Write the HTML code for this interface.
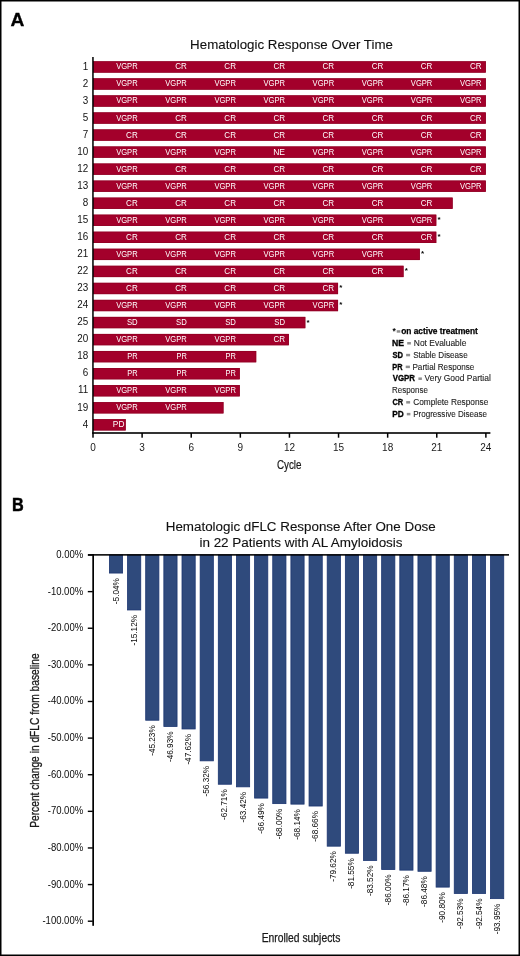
<!DOCTYPE html>
<html><head><meta charset="utf-8"><style>
html,body{margin:0;padding:0;background:#fff;}
body{width:520px;height:956px;overflow:hidden;}
svg{display:block;font-family:"Liberation Sans", sans-serif;will-change:transform;}
</style></head><body>
<svg width="520" height="956" viewBox="0 0 520 956">
<rect x="0" y="0" width="520" height="956" fill="#fff"/>
<text x="10.52" y="25.60" font-size="18.5" fill="#000" font-weight="bold" stroke="#000" stroke-width="0.3" textLength="13.90" lengthAdjust="spacingAndGlyphs">A</text>
<text x="190.13" y="48.60" font-size="13.2" fill="#111" stroke="#111" stroke-width="0.1" textLength="202.75" lengthAdjust="spacingAndGlyphs">Hematologic Response Over Time</text>
<rect x="93.0" y="61.30" width="392.88" height="11.3" fill="#a3002b"/>
<rect x="93.30" y="61.60" width="392.28" height="10.70" fill="none" stroke="#8c0022" stroke-width="0.6"/>
<text x="88.30" y="69.70" font-size="10.3" text-anchor="end" fill="#111" textLength="5.50" lengthAdjust="spacingAndGlyphs">1</text>
<text x="116.17" y="69.40" font-size="9.0" fill="#fff" textLength="21.51" lengthAdjust="spacingAndGlyphs">VGPR</text>
<text x="175.22" y="69.40" font-size="9.0" fill="#fff" textLength="11.60" lengthAdjust="spacingAndGlyphs">CR</text>
<text x="224.33" y="69.40" font-size="9.0" fill="#fff" textLength="11.60" lengthAdjust="spacingAndGlyphs">CR</text>
<text x="273.44" y="69.40" font-size="9.0" fill="#fff" textLength="11.60" lengthAdjust="spacingAndGlyphs">CR</text>
<text x="322.55" y="69.40" font-size="9.0" fill="#fff" textLength="11.60" lengthAdjust="spacingAndGlyphs">CR</text>
<text x="371.66" y="69.40" font-size="9.0" fill="#fff" textLength="11.60" lengthAdjust="spacingAndGlyphs">CR</text>
<text x="420.77" y="69.40" font-size="9.0" fill="#fff" textLength="11.60" lengthAdjust="spacingAndGlyphs">CR</text>
<text x="469.88" y="69.40" font-size="9.0" fill="#fff" textLength="11.60" lengthAdjust="spacingAndGlyphs">CR</text>
<rect x="93.0" y="78.34" width="392.88" height="11.3" fill="#a3002b"/>
<rect x="93.30" y="78.64" width="392.28" height="10.70" fill="none" stroke="#8c0022" stroke-width="0.6"/>
<text x="88.30" y="86.74" font-size="10.3" text-anchor="end" fill="#111" textLength="5.50" lengthAdjust="spacingAndGlyphs">2</text>
<text x="116.17" y="86.44" font-size="9.0" fill="#fff" textLength="21.51" lengthAdjust="spacingAndGlyphs">VGPR</text>
<text x="165.28" y="86.44" font-size="9.0" fill="#fff" textLength="21.51" lengthAdjust="spacingAndGlyphs">VGPR</text>
<text x="214.39" y="86.44" font-size="9.0" fill="#fff" textLength="21.51" lengthAdjust="spacingAndGlyphs">VGPR</text>
<text x="263.50" y="86.44" font-size="9.0" fill="#fff" textLength="21.51" lengthAdjust="spacingAndGlyphs">VGPR</text>
<text x="312.61" y="86.44" font-size="9.0" fill="#fff" textLength="21.51" lengthAdjust="spacingAndGlyphs">VGPR</text>
<text x="361.72" y="86.44" font-size="9.0" fill="#fff" textLength="21.51" lengthAdjust="spacingAndGlyphs">VGPR</text>
<text x="410.83" y="86.44" font-size="9.0" fill="#fff" textLength="21.51" lengthAdjust="spacingAndGlyphs">VGPR</text>
<text x="459.94" y="86.44" font-size="9.0" fill="#fff" textLength="21.51" lengthAdjust="spacingAndGlyphs">VGPR</text>
<rect x="93.0" y="95.38" width="392.88" height="11.3" fill="#a3002b"/>
<rect x="93.30" y="95.68" width="392.28" height="10.70" fill="none" stroke="#8c0022" stroke-width="0.6"/>
<text x="88.30" y="103.78" font-size="10.3" text-anchor="end" fill="#111" textLength="5.50" lengthAdjust="spacingAndGlyphs">3</text>
<text x="116.17" y="103.48" font-size="9.0" fill="#fff" textLength="21.51" lengthAdjust="spacingAndGlyphs">VGPR</text>
<text x="165.28" y="103.48" font-size="9.0" fill="#fff" textLength="21.51" lengthAdjust="spacingAndGlyphs">VGPR</text>
<text x="214.39" y="103.48" font-size="9.0" fill="#fff" textLength="21.51" lengthAdjust="spacingAndGlyphs">VGPR</text>
<text x="263.50" y="103.48" font-size="9.0" fill="#fff" textLength="21.51" lengthAdjust="spacingAndGlyphs">VGPR</text>
<text x="312.61" y="103.48" font-size="9.0" fill="#fff" textLength="21.51" lengthAdjust="spacingAndGlyphs">VGPR</text>
<text x="361.72" y="103.48" font-size="9.0" fill="#fff" textLength="21.51" lengthAdjust="spacingAndGlyphs">VGPR</text>
<text x="410.83" y="103.48" font-size="9.0" fill="#fff" textLength="21.51" lengthAdjust="spacingAndGlyphs">VGPR</text>
<text x="459.94" y="103.48" font-size="9.0" fill="#fff" textLength="21.51" lengthAdjust="spacingAndGlyphs">VGPR</text>
<rect x="93.0" y="112.42" width="392.88" height="11.3" fill="#a3002b"/>
<rect x="93.30" y="112.72" width="392.28" height="10.70" fill="none" stroke="#8c0022" stroke-width="0.6"/>
<text x="88.30" y="120.82" font-size="10.3" text-anchor="end" fill="#111" textLength="5.50" lengthAdjust="spacingAndGlyphs">5</text>
<text x="116.17" y="120.52" font-size="9.0" fill="#fff" textLength="21.51" lengthAdjust="spacingAndGlyphs">VGPR</text>
<text x="175.22" y="120.52" font-size="9.0" fill="#fff" textLength="11.60" lengthAdjust="spacingAndGlyphs">CR</text>
<text x="224.33" y="120.52" font-size="9.0" fill="#fff" textLength="11.60" lengthAdjust="spacingAndGlyphs">CR</text>
<text x="273.44" y="120.52" font-size="9.0" fill="#fff" textLength="11.60" lengthAdjust="spacingAndGlyphs">CR</text>
<text x="322.55" y="120.52" font-size="9.0" fill="#fff" textLength="11.60" lengthAdjust="spacingAndGlyphs">CR</text>
<text x="371.66" y="120.52" font-size="9.0" fill="#fff" textLength="11.60" lengthAdjust="spacingAndGlyphs">CR</text>
<text x="420.77" y="120.52" font-size="9.0" fill="#fff" textLength="11.60" lengthAdjust="spacingAndGlyphs">CR</text>
<text x="469.88" y="120.52" font-size="9.0" fill="#fff" textLength="11.60" lengthAdjust="spacingAndGlyphs">CR</text>
<rect x="93.0" y="129.46" width="392.88" height="11.3" fill="#a3002b"/>
<rect x="93.30" y="129.76" width="392.28" height="10.70" fill="none" stroke="#8c0022" stroke-width="0.6"/>
<text x="88.30" y="137.86" font-size="10.3" text-anchor="end" fill="#111" textLength="5.50" lengthAdjust="spacingAndGlyphs">7</text>
<text x="126.11" y="137.56" font-size="9.0" fill="#fff" textLength="11.60" lengthAdjust="spacingAndGlyphs">CR</text>
<text x="175.22" y="137.56" font-size="9.0" fill="#fff" textLength="11.60" lengthAdjust="spacingAndGlyphs">CR</text>
<text x="224.33" y="137.56" font-size="9.0" fill="#fff" textLength="11.60" lengthAdjust="spacingAndGlyphs">CR</text>
<text x="273.44" y="137.56" font-size="9.0" fill="#fff" textLength="11.60" lengthAdjust="spacingAndGlyphs">CR</text>
<text x="322.55" y="137.56" font-size="9.0" fill="#fff" textLength="11.60" lengthAdjust="spacingAndGlyphs">CR</text>
<text x="371.66" y="137.56" font-size="9.0" fill="#fff" textLength="11.60" lengthAdjust="spacingAndGlyphs">CR</text>
<text x="420.77" y="137.56" font-size="9.0" fill="#fff" textLength="11.60" lengthAdjust="spacingAndGlyphs">CR</text>
<text x="469.88" y="137.56" font-size="9.0" fill="#fff" textLength="11.60" lengthAdjust="spacingAndGlyphs">CR</text>
<rect x="93.0" y="146.50" width="392.88" height="11.3" fill="#a3002b"/>
<rect x="93.30" y="146.80" width="392.28" height="10.70" fill="none" stroke="#8c0022" stroke-width="0.6"/>
<text x="88.30" y="154.90" font-size="10.3" text-anchor="end" fill="#111" textLength="11.00" lengthAdjust="spacingAndGlyphs">10</text>
<text x="116.17" y="154.60" font-size="9.0" fill="#fff" textLength="21.51" lengthAdjust="spacingAndGlyphs">VGPR</text>
<text x="165.28" y="154.60" font-size="9.0" fill="#fff" textLength="21.51" lengthAdjust="spacingAndGlyphs">VGPR</text>
<text x="214.39" y="154.60" font-size="9.0" fill="#fff" textLength="21.51" lengthAdjust="spacingAndGlyphs">VGPR</text>
<text x="273.16" y="154.60" font-size="9.0" fill="#fff" textLength="11.86" lengthAdjust="spacingAndGlyphs">NE</text>
<text x="312.61" y="154.60" font-size="9.0" fill="#fff" textLength="21.51" lengthAdjust="spacingAndGlyphs">VGPR</text>
<text x="361.72" y="154.60" font-size="9.0" fill="#fff" textLength="21.51" lengthAdjust="spacingAndGlyphs">VGPR</text>
<text x="410.83" y="154.60" font-size="9.0" fill="#fff" textLength="21.51" lengthAdjust="spacingAndGlyphs">VGPR</text>
<text x="459.94" y="154.60" font-size="9.0" fill="#fff" textLength="21.51" lengthAdjust="spacingAndGlyphs">VGPR</text>
<rect x="93.0" y="163.54" width="392.88" height="11.3" fill="#a3002b"/>
<rect x="93.30" y="163.84" width="392.28" height="10.70" fill="none" stroke="#8c0022" stroke-width="0.6"/>
<text x="88.30" y="171.94" font-size="10.3" text-anchor="end" fill="#111" textLength="11.00" lengthAdjust="spacingAndGlyphs">12</text>
<text x="116.17" y="171.64" font-size="9.0" fill="#fff" textLength="21.51" lengthAdjust="spacingAndGlyphs">VGPR</text>
<text x="175.22" y="171.64" font-size="9.0" fill="#fff" textLength="11.60" lengthAdjust="spacingAndGlyphs">CR</text>
<text x="224.33" y="171.64" font-size="9.0" fill="#fff" textLength="11.60" lengthAdjust="spacingAndGlyphs">CR</text>
<text x="273.44" y="171.64" font-size="9.0" fill="#fff" textLength="11.60" lengthAdjust="spacingAndGlyphs">CR</text>
<text x="322.55" y="171.64" font-size="9.0" fill="#fff" textLength="11.60" lengthAdjust="spacingAndGlyphs">CR</text>
<text x="371.66" y="171.64" font-size="9.0" fill="#fff" textLength="11.60" lengthAdjust="spacingAndGlyphs">CR</text>
<text x="420.77" y="171.64" font-size="9.0" fill="#fff" textLength="11.60" lengthAdjust="spacingAndGlyphs">CR</text>
<text x="469.88" y="171.64" font-size="9.0" fill="#fff" textLength="11.60" lengthAdjust="spacingAndGlyphs">CR</text>
<rect x="93.0" y="180.58" width="392.88" height="11.3" fill="#a3002b"/>
<rect x="93.30" y="180.88" width="392.28" height="10.70" fill="none" stroke="#8c0022" stroke-width="0.6"/>
<text x="88.30" y="188.98" font-size="10.3" text-anchor="end" fill="#111" textLength="11.00" lengthAdjust="spacingAndGlyphs">13</text>
<text x="116.17" y="188.68" font-size="9.0" fill="#fff" textLength="21.51" lengthAdjust="spacingAndGlyphs">VGPR</text>
<text x="165.28" y="188.68" font-size="9.0" fill="#fff" textLength="21.51" lengthAdjust="spacingAndGlyphs">VGPR</text>
<text x="214.39" y="188.68" font-size="9.0" fill="#fff" textLength="21.51" lengthAdjust="spacingAndGlyphs">VGPR</text>
<text x="263.50" y="188.68" font-size="9.0" fill="#fff" textLength="21.51" lengthAdjust="spacingAndGlyphs">VGPR</text>
<text x="312.61" y="188.68" font-size="9.0" fill="#fff" textLength="21.51" lengthAdjust="spacingAndGlyphs">VGPR</text>
<text x="361.72" y="188.68" font-size="9.0" fill="#fff" textLength="21.51" lengthAdjust="spacingAndGlyphs">VGPR</text>
<text x="410.83" y="188.68" font-size="9.0" fill="#fff" textLength="21.51" lengthAdjust="spacingAndGlyphs">VGPR</text>
<text x="459.94" y="188.68" font-size="9.0" fill="#fff" textLength="21.51" lengthAdjust="spacingAndGlyphs">VGPR</text>
<rect x="93.0" y="197.62" width="359.64" height="11.3" fill="#a3002b"/>
<rect x="93.30" y="197.92" width="359.04" height="10.70" fill="none" stroke="#8c0022" stroke-width="0.6"/>
<text x="88.30" y="206.02" font-size="10.3" text-anchor="end" fill="#111" textLength="5.50" lengthAdjust="spacingAndGlyphs">8</text>
<text x="126.11" y="205.72" font-size="9.0" fill="#fff" textLength="11.60" lengthAdjust="spacingAndGlyphs">CR</text>
<text x="175.22" y="205.72" font-size="9.0" fill="#fff" textLength="11.60" lengthAdjust="spacingAndGlyphs">CR</text>
<text x="224.33" y="205.72" font-size="9.0" fill="#fff" textLength="11.60" lengthAdjust="spacingAndGlyphs">CR</text>
<text x="273.44" y="205.72" font-size="9.0" fill="#fff" textLength="11.60" lengthAdjust="spacingAndGlyphs">CR</text>
<text x="322.55" y="205.72" font-size="9.0" fill="#fff" textLength="11.60" lengthAdjust="spacingAndGlyphs">CR</text>
<text x="371.66" y="205.72" font-size="9.0" fill="#fff" textLength="11.60" lengthAdjust="spacingAndGlyphs">CR</text>
<text x="420.77" y="205.72" font-size="9.0" fill="#fff" textLength="11.60" lengthAdjust="spacingAndGlyphs">CR</text>
<rect x="93.0" y="214.66" width="343.27" height="11.3" fill="#a3002b"/>
<rect x="93.30" y="214.96" width="342.67" height="10.70" fill="none" stroke="#8c0022" stroke-width="0.6"/>
<text x="88.30" y="223.06" font-size="10.3" text-anchor="end" fill="#111" textLength="11.00" lengthAdjust="spacingAndGlyphs">15</text>
<text x="116.17" y="222.76" font-size="9.0" fill="#fff" textLength="21.51" lengthAdjust="spacingAndGlyphs">VGPR</text>
<text x="165.28" y="222.76" font-size="9.0" fill="#fff" textLength="21.51" lengthAdjust="spacingAndGlyphs">VGPR</text>
<text x="214.39" y="222.76" font-size="9.0" fill="#fff" textLength="21.51" lengthAdjust="spacingAndGlyphs">VGPR</text>
<text x="263.50" y="222.76" font-size="9.0" fill="#fff" textLength="21.51" lengthAdjust="spacingAndGlyphs">VGPR</text>
<text x="312.61" y="222.76" font-size="9.0" fill="#fff" textLength="21.51" lengthAdjust="spacingAndGlyphs">VGPR</text>
<text x="361.72" y="222.76" font-size="9.0" fill="#fff" textLength="21.51" lengthAdjust="spacingAndGlyphs">VGPR</text>
<text x="410.83" y="222.76" font-size="9.0" fill="#fff" textLength="21.51" lengthAdjust="spacingAndGlyphs">VGPR</text>
<text x="437.47" y="222.26" font-size="8" text-anchor="start" fill="#000" font-weight="bold">*</text>
<rect x="93.0" y="231.70" width="343.27" height="11.3" fill="#a3002b"/>
<rect x="93.30" y="232.00" width="342.67" height="10.70" fill="none" stroke="#8c0022" stroke-width="0.6"/>
<text x="88.30" y="240.10" font-size="10.3" text-anchor="end" fill="#111" textLength="11.00" lengthAdjust="spacingAndGlyphs">16</text>
<text x="126.11" y="239.80" font-size="9.0" fill="#fff" textLength="11.60" lengthAdjust="spacingAndGlyphs">CR</text>
<text x="175.22" y="239.80" font-size="9.0" fill="#fff" textLength="11.60" lengthAdjust="spacingAndGlyphs">CR</text>
<text x="224.33" y="239.80" font-size="9.0" fill="#fff" textLength="11.60" lengthAdjust="spacingAndGlyphs">CR</text>
<text x="273.44" y="239.80" font-size="9.0" fill="#fff" textLength="11.60" lengthAdjust="spacingAndGlyphs">CR</text>
<text x="322.55" y="239.80" font-size="9.0" fill="#fff" textLength="11.60" lengthAdjust="spacingAndGlyphs">CR</text>
<text x="371.66" y="239.80" font-size="9.0" fill="#fff" textLength="11.60" lengthAdjust="spacingAndGlyphs">CR</text>
<text x="420.77" y="239.80" font-size="9.0" fill="#fff" textLength="11.60" lengthAdjust="spacingAndGlyphs">CR</text>
<text x="437.47" y="239.30" font-size="8" text-anchor="start" fill="#000" font-weight="bold">*</text>
<rect x="93.0" y="248.74" width="326.90" height="11.3" fill="#a3002b"/>
<rect x="93.30" y="249.04" width="326.30" height="10.70" fill="none" stroke="#8c0022" stroke-width="0.6"/>
<text x="88.30" y="257.14" font-size="10.3" text-anchor="end" fill="#111" textLength="11.00" lengthAdjust="spacingAndGlyphs">21</text>
<text x="116.17" y="256.84" font-size="9.0" fill="#fff" textLength="21.51" lengthAdjust="spacingAndGlyphs">VGPR</text>
<text x="165.28" y="256.84" font-size="9.0" fill="#fff" textLength="21.51" lengthAdjust="spacingAndGlyphs">VGPR</text>
<text x="214.39" y="256.84" font-size="9.0" fill="#fff" textLength="21.51" lengthAdjust="spacingAndGlyphs">VGPR</text>
<text x="263.50" y="256.84" font-size="9.0" fill="#fff" textLength="21.51" lengthAdjust="spacingAndGlyphs">VGPR</text>
<text x="312.61" y="256.84" font-size="9.0" fill="#fff" textLength="21.51" lengthAdjust="spacingAndGlyphs">VGPR</text>
<text x="361.72" y="256.84" font-size="9.0" fill="#fff" textLength="21.51" lengthAdjust="spacingAndGlyphs">VGPR</text>
<text x="421.10" y="256.34" font-size="8" text-anchor="start" fill="#000" font-weight="bold">*</text>
<rect x="93.0" y="265.78" width="310.53" height="11.3" fill="#a3002b"/>
<rect x="93.30" y="266.08" width="309.93" height="10.70" fill="none" stroke="#8c0022" stroke-width="0.6"/>
<text x="88.30" y="274.18" font-size="10.3" text-anchor="end" fill="#111" textLength="11.00" lengthAdjust="spacingAndGlyphs">22</text>
<text x="126.11" y="273.88" font-size="9.0" fill="#fff" textLength="11.60" lengthAdjust="spacingAndGlyphs">CR</text>
<text x="175.22" y="273.88" font-size="9.0" fill="#fff" textLength="11.60" lengthAdjust="spacingAndGlyphs">CR</text>
<text x="224.33" y="273.88" font-size="9.0" fill="#fff" textLength="11.60" lengthAdjust="spacingAndGlyphs">CR</text>
<text x="273.44" y="273.88" font-size="9.0" fill="#fff" textLength="11.60" lengthAdjust="spacingAndGlyphs">CR</text>
<text x="322.55" y="273.88" font-size="9.0" fill="#fff" textLength="11.60" lengthAdjust="spacingAndGlyphs">CR</text>
<text x="371.66" y="273.88" font-size="9.0" fill="#fff" textLength="11.60" lengthAdjust="spacingAndGlyphs">CR</text>
<text x="404.73" y="273.38" font-size="8" text-anchor="start" fill="#000" font-weight="bold">*</text>
<rect x="93.0" y="282.82" width="245.05" height="11.3" fill="#a3002b"/>
<rect x="93.30" y="283.12" width="244.45" height="10.70" fill="none" stroke="#8c0022" stroke-width="0.6"/>
<text x="88.30" y="291.22" font-size="10.3" text-anchor="end" fill="#111" textLength="11.00" lengthAdjust="spacingAndGlyphs">23</text>
<text x="126.11" y="290.92" font-size="9.0" fill="#fff" textLength="11.60" lengthAdjust="spacingAndGlyphs">CR</text>
<text x="175.22" y="290.92" font-size="9.0" fill="#fff" textLength="11.60" lengthAdjust="spacingAndGlyphs">CR</text>
<text x="224.33" y="290.92" font-size="9.0" fill="#fff" textLength="11.60" lengthAdjust="spacingAndGlyphs">CR</text>
<text x="273.44" y="290.92" font-size="9.0" fill="#fff" textLength="11.60" lengthAdjust="spacingAndGlyphs">CR</text>
<text x="322.55" y="290.92" font-size="9.0" fill="#fff" textLength="11.60" lengthAdjust="spacingAndGlyphs">CR</text>
<text x="339.25" y="290.42" font-size="8" text-anchor="start" fill="#000" font-weight="bold">*</text>
<rect x="93.0" y="299.86" width="245.05" height="11.3" fill="#a3002b"/>
<rect x="93.30" y="300.16" width="244.45" height="10.70" fill="none" stroke="#8c0022" stroke-width="0.6"/>
<text x="88.30" y="308.26" font-size="10.3" text-anchor="end" fill="#111" textLength="11.00" lengthAdjust="spacingAndGlyphs">24</text>
<text x="116.17" y="307.96" font-size="9.0" fill="#fff" textLength="21.51" lengthAdjust="spacingAndGlyphs">VGPR</text>
<text x="165.28" y="307.96" font-size="9.0" fill="#fff" textLength="21.51" lengthAdjust="spacingAndGlyphs">VGPR</text>
<text x="214.39" y="307.96" font-size="9.0" fill="#fff" textLength="21.51" lengthAdjust="spacingAndGlyphs">VGPR</text>
<text x="263.50" y="307.96" font-size="9.0" fill="#fff" textLength="21.51" lengthAdjust="spacingAndGlyphs">VGPR</text>
<text x="312.61" y="307.96" font-size="9.0" fill="#fff" textLength="21.51" lengthAdjust="spacingAndGlyphs">VGPR</text>
<text x="339.25" y="307.46" font-size="8" text-anchor="start" fill="#000" font-weight="bold">*</text>
<rect x="93.0" y="316.90" width="212.31" height="11.3" fill="#a3002b"/>
<rect x="93.30" y="317.20" width="211.71" height="10.70" fill="none" stroke="#8c0022" stroke-width="0.6"/>
<text x="88.30" y="325.30" font-size="10.3" text-anchor="end" fill="#111" textLength="11.00" lengthAdjust="spacingAndGlyphs">25</text>
<text x="126.96" y="325.00" font-size="9.0" fill="#fff" textLength="10.73" lengthAdjust="spacingAndGlyphs">SD</text>
<text x="176.07" y="325.00" font-size="9.0" fill="#fff" textLength="10.73" lengthAdjust="spacingAndGlyphs">SD</text>
<text x="225.18" y="325.00" font-size="9.0" fill="#fff" textLength="10.73" lengthAdjust="spacingAndGlyphs">SD</text>
<text x="274.29" y="325.00" font-size="9.0" fill="#fff" textLength="10.73" lengthAdjust="spacingAndGlyphs">SD</text>
<text x="306.51" y="324.50" font-size="8" text-anchor="start" fill="#000" font-weight="bold">*</text>
<rect x="93.0" y="333.94" width="195.94" height="11.3" fill="#a3002b"/>
<rect x="93.30" y="334.24" width="195.34" height="10.70" fill="none" stroke="#8c0022" stroke-width="0.6"/>
<text x="88.30" y="342.34" font-size="10.3" text-anchor="end" fill="#111" textLength="11.00" lengthAdjust="spacingAndGlyphs">20</text>
<text x="116.17" y="342.04" font-size="9.0" fill="#fff" textLength="21.51" lengthAdjust="spacingAndGlyphs">VGPR</text>
<text x="165.28" y="342.04" font-size="9.0" fill="#fff" textLength="21.51" lengthAdjust="spacingAndGlyphs">VGPR</text>
<text x="214.39" y="342.04" font-size="9.0" fill="#fff" textLength="21.51" lengthAdjust="spacingAndGlyphs">VGPR</text>
<text x="273.44" y="342.04" font-size="9.0" fill="#fff" textLength="11.60" lengthAdjust="spacingAndGlyphs">CR</text>
<rect x="93.0" y="350.98" width="163.20" height="11.3" fill="#a3002b"/>
<rect x="93.30" y="351.28" width="162.60" height="10.70" fill="none" stroke="#8c0022" stroke-width="0.6"/>
<text x="88.30" y="359.38" font-size="10.3" text-anchor="end" fill="#111" textLength="11.00" lengthAdjust="spacingAndGlyphs">18</text>
<text x="127.31" y="359.08" font-size="9.0" fill="#fff" textLength="10.36" lengthAdjust="spacingAndGlyphs">PR</text>
<text x="176.42" y="359.08" font-size="9.0" fill="#fff" textLength="10.36" lengthAdjust="spacingAndGlyphs">PR</text>
<text x="225.53" y="359.08" font-size="9.0" fill="#fff" textLength="10.36" lengthAdjust="spacingAndGlyphs">PR</text>
<rect x="93.0" y="368.02" width="146.83" height="11.3" fill="#a3002b"/>
<rect x="93.30" y="368.32" width="146.23" height="10.70" fill="none" stroke="#8c0022" stroke-width="0.6"/>
<text x="88.30" y="376.42" font-size="10.3" text-anchor="end" fill="#111" textLength="5.50" lengthAdjust="spacingAndGlyphs">6</text>
<text x="127.31" y="376.12" font-size="9.0" fill="#fff" textLength="10.36" lengthAdjust="spacingAndGlyphs">PR</text>
<text x="176.42" y="376.12" font-size="9.0" fill="#fff" textLength="10.36" lengthAdjust="spacingAndGlyphs">PR</text>
<text x="225.53" y="376.12" font-size="9.0" fill="#fff" textLength="10.36" lengthAdjust="spacingAndGlyphs">PR</text>
<rect x="93.0" y="385.06" width="146.83" height="11.3" fill="#a3002b"/>
<rect x="93.30" y="385.36" width="146.23" height="10.70" fill="none" stroke="#8c0022" stroke-width="0.6"/>
<text x="88.30" y="393.46" font-size="10.3" text-anchor="end" fill="#111" textLength="10.26" lengthAdjust="spacingAndGlyphs">11</text>
<text x="116.17" y="393.16" font-size="9.0" fill="#fff" textLength="21.51" lengthAdjust="spacingAndGlyphs">VGPR</text>
<text x="165.28" y="393.16" font-size="9.0" fill="#fff" textLength="21.51" lengthAdjust="spacingAndGlyphs">VGPR</text>
<text x="214.39" y="393.16" font-size="9.0" fill="#fff" textLength="21.51" lengthAdjust="spacingAndGlyphs">VGPR</text>
<rect x="93.0" y="402.10" width="130.46" height="11.3" fill="#a3002b"/>
<rect x="93.30" y="402.40" width="129.86" height="10.70" fill="none" stroke="#8c0022" stroke-width="0.6"/>
<text x="88.30" y="410.50" font-size="10.3" text-anchor="end" fill="#111" textLength="11.00" lengthAdjust="spacingAndGlyphs">19</text>
<text x="116.17" y="410.20" font-size="9.0" fill="#fff" textLength="21.51" lengthAdjust="spacingAndGlyphs">VGPR</text>
<text x="165.28" y="410.20" font-size="9.0" fill="#fff" textLength="21.51" lengthAdjust="spacingAndGlyphs">VGPR</text>
<rect x="93.0" y="419.14" width="32.74" height="11.3" fill="#a3002b"/>
<rect x="93.30" y="419.44" width="32.14" height="10.70" fill="none" stroke="#8c0022" stroke-width="0.6"/>
<text x="88.30" y="427.54" font-size="10.3" text-anchor="end" fill="#111" textLength="5.50" lengthAdjust="spacingAndGlyphs">4</text>
<text x="112.87" y="427.24" font-size="9.0" fill="#fff" textLength="11.58" lengthAdjust="spacingAndGlyphs">PD</text>
<rect x="92.2" y="57" width="1.5" height="376.5" fill="#000"/>
<rect x="92.2" y="432.2" width="398.2" height="1.6" fill="#000"/>
<rect x="92.25" y="433" width="1.5" height="4.7" fill="#000"/>
<text x="93.00" y="450.80" font-size="10" text-anchor="middle" fill="#1a1a1a">0</text>
<rect x="141.36" y="433" width="1.5" height="4.7" fill="#000"/>
<text x="142.11" y="450.80" font-size="10" text-anchor="middle" fill="#1a1a1a">3</text>
<rect x="190.47" y="433" width="1.5" height="4.7" fill="#000"/>
<text x="191.22" y="450.80" font-size="10" text-anchor="middle" fill="#1a1a1a">6</text>
<rect x="239.58" y="433" width="1.5" height="4.7" fill="#000"/>
<text x="240.33" y="450.80" font-size="10" text-anchor="middle" fill="#1a1a1a">9</text>
<rect x="288.69" y="433" width="1.5" height="4.7" fill="#000"/>
<text x="289.44" y="450.80" font-size="10" text-anchor="middle" fill="#1a1a1a">12</text>
<rect x="337.80" y="433" width="1.5" height="4.7" fill="#000"/>
<text x="338.55" y="450.80" font-size="10" text-anchor="middle" fill="#1a1a1a">15</text>
<rect x="386.91" y="433" width="1.5" height="4.7" fill="#000"/>
<text x="387.66" y="450.80" font-size="10" text-anchor="middle" fill="#1a1a1a">18</text>
<rect x="436.02" y="433" width="1.5" height="4.7" fill="#000"/>
<text x="436.77" y="450.80" font-size="10" text-anchor="middle" fill="#1a1a1a">21</text>
<rect x="485.13" y="433" width="1.5" height="4.7" fill="#000"/>
<text x="485.88" y="450.80" font-size="10" text-anchor="middle" fill="#1a1a1a">24</text>
<text x="276.91" y="468.90" font-size="13.2" fill="#1a1a1a" stroke="#1a1a1a" stroke-width="0.2" textLength="24.64" lengthAdjust="spacingAndGlyphs">Cycle</text>
<text x="392.50" y="334.30" font-size="8.5" text-anchor="start" fill="#000" font-weight="bold">*</text>
<rect x="396.70" y="330.20" width="3.60" height="2.5" fill="#8e8e8e"/>
<text x="401.17" y="334.10" font-size="8.6" fill="#000" font-weight="bold" stroke="#000" stroke-width="0.25" textLength="76.76" lengthAdjust="spacingAndGlyphs">on active treatment</text>
<text x="392.14" y="345.91" font-size="8.4" fill="#000" font-weight="bold" stroke="#000" stroke-width="0.3" textLength="12.00" lengthAdjust="spacingAndGlyphs">NE</text>
<rect x="407.20" y="342.01" width="3.70" height="2.5" fill="#8e8e8e"/>
<text x="413.82" y="345.91" font-size="8.4" fill="#222" stroke="#222" stroke-width="0.1" textLength="52.57" lengthAdjust="spacingAndGlyphs">Not Evaluable</text>
<text x="392.47" y="357.72" font-size="8.4" fill="#000" font-weight="bold" stroke="#000" stroke-width="0.3" textLength="10.56" lengthAdjust="spacingAndGlyphs">SD</text>
<rect x="406.10" y="353.82" width="4.00" height="2.5" fill="#8e8e8e"/>
<text x="413.14" y="357.72" font-size="8.4" fill="#222" stroke="#222" stroke-width="0.1" textLength="54.54" lengthAdjust="spacingAndGlyphs">Stable Disease</text>
<text x="392.22" y="369.53" font-size="8.4" fill="#000" font-weight="bold" stroke="#000" stroke-width="0.3" textLength="10.26" lengthAdjust="spacingAndGlyphs">PR</text>
<rect x="405.70" y="365.63" width="4.20" height="2.5" fill="#8e8e8e"/>
<text x="412.45" y="369.53" font-size="8.4" fill="#222" stroke="#222" stroke-width="0.1" textLength="61.92" lengthAdjust="spacingAndGlyphs">Partial Response</text>
<text x="392.66" y="381.34" font-size="8.4" fill="#000" font-weight="bold" stroke="#000" stroke-width="0.3" textLength="22.33" lengthAdjust="spacingAndGlyphs">VGPR</text>
<rect x="418.40" y="377.44" width="3.50" height="2.5" fill="#8e8e8e"/>
<text x="424.56" y="381.34" font-size="8.4" fill="#222" stroke="#222" stroke-width="0.1" textLength="66.21" lengthAdjust="spacingAndGlyphs">Very Good Partial</text>
<text x="392.06" y="393.15" font-size="8.4" fill="#222" stroke="#222" stroke-width="0.1" textLength="35.82" lengthAdjust="spacingAndGlyphs">Response</text>
<text x="392.40" y="404.96" font-size="8.4" fill="#000" font-weight="bold" stroke="#000" stroke-width="0.3" textLength="10.78" lengthAdjust="spacingAndGlyphs">CR</text>
<rect x="406.20" y="401.06" width="3.90" height="2.5" fill="#8e8e8e"/>
<text x="413.19" y="404.96" font-size="8.4" fill="#222" stroke="#222" stroke-width="0.1" textLength="75.09" lengthAdjust="spacingAndGlyphs">Complete Response</text>
<text x="392.16" y="416.77" font-size="8.4" fill="#000" font-weight="bold" stroke="#000" stroke-width="0.3" textLength="11.50" lengthAdjust="spacingAndGlyphs">PD</text>
<rect x="406.80" y="412.87" width="3.60" height="2.5" fill="#8e8e8e"/>
<text x="413.16" y="416.77" font-size="8.4" fill="#222" stroke="#222" stroke-width="0.1" textLength="73.91" lengthAdjust="spacingAndGlyphs">Progressive Disease</text>
<text x="11.90" y="510.50" font-size="18.2" fill="#000" font-weight="bold" stroke="#000" stroke-width="0.5" textLength="11.72" lengthAdjust="spacingAndGlyphs">B</text>
<text x="165.73" y="530.90" font-size="12.0" fill="#111" stroke="#111" stroke-width="0.1" textLength="270.00" lengthAdjust="spacingAndGlyphs">Hematologic dFLC Response After One Dose</text>
<text x="199.42" y="546.50" font-size="12.0" fill="#111" stroke="#111" stroke-width="0.1" textLength="203.18" lengthAdjust="spacingAndGlyphs">in 22 Patients with AL Amyloidosis</text>
<rect x="109.40" y="555.00" width="13.20" height="18.06" fill="#2f4a7c" stroke="#1b3570" stroke-width="0.8"/>
<text transform="translate(118.50,604.13) rotate(-90)" font-size="9.2" fill="#0a0a0a" textLength="26.05" lengthAdjust="spacingAndGlyphs">-5.04%</text>
<rect x="127.55" y="555.00" width="13.20" height="54.97" fill="#2f4a7c" stroke="#1b3570" stroke-width="0.8"/>
<text transform="translate(136.65,645.60) rotate(-90)" font-size="9.2" fill="#0a0a0a" textLength="30.62" lengthAdjust="spacingAndGlyphs">-15.12%</text>
<rect x="145.70" y="555.00" width="13.20" height="165.23" fill="#2f4a7c" stroke="#1b3570" stroke-width="0.8"/>
<text transform="translate(154.80,755.86) rotate(-90)" font-size="9.2" fill="#0a0a0a" textLength="30.62" lengthAdjust="spacingAndGlyphs">-45.23%</text>
<rect x="163.85" y="555.00" width="13.20" height="171.46" fill="#2f4a7c" stroke="#1b3570" stroke-width="0.8"/>
<text transform="translate(172.95,762.09) rotate(-90)" font-size="9.2" fill="#0a0a0a" textLength="30.62" lengthAdjust="spacingAndGlyphs">-46.93%</text>
<rect x="182.00" y="555.00" width="13.20" height="173.98" fill="#2f4a7c" stroke="#1b3570" stroke-width="0.8"/>
<text transform="translate(191.10,764.62) rotate(-90)" font-size="9.2" fill="#0a0a0a" textLength="30.62" lengthAdjust="spacingAndGlyphs">-47.62%</text>
<rect x="200.15" y="555.00" width="13.20" height="205.84" fill="#2f4a7c" stroke="#1b3570" stroke-width="0.8"/>
<text transform="translate(209.25,796.48) rotate(-90)" font-size="9.2" fill="#0a0a0a" textLength="30.62" lengthAdjust="spacingAndGlyphs">-56.32%</text>
<rect x="218.30" y="555.00" width="13.20" height="229.24" fill="#2f4a7c" stroke="#1b3570" stroke-width="0.8"/>
<text transform="translate(227.40,819.88) rotate(-90)" font-size="9.2" fill="#0a0a0a" textLength="30.62" lengthAdjust="spacingAndGlyphs">-62.71%</text>
<rect x="236.45" y="555.00" width="13.20" height="231.84" fill="#2f4a7c" stroke="#1b3570" stroke-width="0.8"/>
<text transform="translate(245.55,822.48) rotate(-90)" font-size="9.2" fill="#0a0a0a" textLength="30.62" lengthAdjust="spacingAndGlyphs">-63.42%</text>
<rect x="254.60" y="555.00" width="13.20" height="243.09" fill="#2f4a7c" stroke="#1b3570" stroke-width="0.8"/>
<text transform="translate(263.70,833.72) rotate(-90)" font-size="9.2" fill="#0a0a0a" textLength="30.62" lengthAdjust="spacingAndGlyphs">-66.49%</text>
<rect x="272.75" y="555.00" width="13.20" height="248.62" fill="#2f4a7c" stroke="#1b3570" stroke-width="0.8"/>
<text transform="translate(281.85,839.25) rotate(-90)" font-size="9.2" fill="#0a0a0a" textLength="30.62" lengthAdjust="spacingAndGlyphs">-68.00%</text>
<rect x="290.90" y="555.00" width="13.20" height="249.13" fill="#2f4a7c" stroke="#1b3570" stroke-width="0.8"/>
<text transform="translate(300.00,839.76) rotate(-90)" font-size="9.2" fill="#0a0a0a" textLength="30.62" lengthAdjust="spacingAndGlyphs">-68.14%</text>
<rect x="309.05" y="555.00" width="13.20" height="251.03" fill="#2f4a7c" stroke="#1b3570" stroke-width="0.8"/>
<text transform="translate(318.15,841.66) rotate(-90)" font-size="9.2" fill="#0a0a0a" textLength="30.62" lengthAdjust="spacingAndGlyphs">-68.66%</text>
<rect x="327.20" y="555.00" width="13.20" height="291.17" fill="#2f4a7c" stroke="#1b3570" stroke-width="0.8"/>
<text transform="translate(336.30,881.80) rotate(-90)" font-size="9.2" fill="#0a0a0a" textLength="30.62" lengthAdjust="spacingAndGlyphs">-79.62%</text>
<rect x="345.35" y="555.00" width="13.20" height="298.24" fill="#2f4a7c" stroke="#1b3570" stroke-width="0.8"/>
<text transform="translate(354.45,888.87) rotate(-90)" font-size="9.2" fill="#0a0a0a" textLength="30.62" lengthAdjust="spacingAndGlyphs">-81.55%</text>
<rect x="363.50" y="555.00" width="13.20" height="305.45" fill="#2f4a7c" stroke="#1b3570" stroke-width="0.8"/>
<text transform="translate(372.60,896.08) rotate(-90)" font-size="9.2" fill="#0a0a0a" textLength="30.62" lengthAdjust="spacingAndGlyphs">-83.52%</text>
<rect x="381.65" y="555.00" width="13.20" height="314.53" fill="#2f4a7c" stroke="#1b3570" stroke-width="0.8"/>
<text transform="translate(390.75,905.16) rotate(-90)" font-size="9.2" fill="#0a0a0a" textLength="30.62" lengthAdjust="spacingAndGlyphs">-86.00%</text>
<rect x="399.80" y="555.00" width="13.20" height="315.15" fill="#2f4a7c" stroke="#1b3570" stroke-width="0.8"/>
<text transform="translate(408.90,905.79) rotate(-90)" font-size="9.2" fill="#0a0a0a" textLength="30.62" lengthAdjust="spacingAndGlyphs">-86.17%</text>
<rect x="417.95" y="555.00" width="13.20" height="316.29" fill="#2f4a7c" stroke="#1b3570" stroke-width="0.8"/>
<text transform="translate(427.05,906.92) rotate(-90)" font-size="9.2" fill="#0a0a0a" textLength="30.62" lengthAdjust="spacingAndGlyphs">-86.48%</text>
<rect x="436.10" y="555.00" width="13.20" height="332.11" fill="#2f4a7c" stroke="#1b3570" stroke-width="0.8"/>
<text transform="translate(445.20,922.74) rotate(-90)" font-size="9.2" fill="#0a0a0a" textLength="30.62" lengthAdjust="spacingAndGlyphs">-90.80%</text>
<rect x="454.25" y="555.00" width="13.20" height="338.44" fill="#2f4a7c" stroke="#1b3570" stroke-width="0.8"/>
<text transform="translate(463.35,929.08) rotate(-90)" font-size="9.2" fill="#0a0a0a" textLength="30.62" lengthAdjust="spacingAndGlyphs">-92.53%</text>
<rect x="472.40" y="555.00" width="13.20" height="338.48" fill="#2f4a7c" stroke="#1b3570" stroke-width="0.8"/>
<text transform="translate(481.50,929.11) rotate(-90)" font-size="9.2" fill="#0a0a0a" textLength="30.62" lengthAdjust="spacingAndGlyphs">-92.54%</text>
<rect x="490.55" y="555.00" width="13.20" height="343.64" fill="#2f4a7c" stroke="#1b3570" stroke-width="0.8"/>
<text transform="translate(499.65,934.28) rotate(-90)" font-size="9.2" fill="#0a0a0a" textLength="30.62" lengthAdjust="spacingAndGlyphs">-93.95%</text>
<rect x="88" y="554.1" width="421" height="1.55" fill="#000"/>
<rect x="92.3" y="554" width="1.7" height="371.8" fill="#000"/>
<rect x="87.8" y="554.30" width="5" height="1.4" fill="#000"/>
<text x="83.20" y="558.00" font-size="10.3" text-anchor="end" fill="#0a0a0a" textLength="27.01" lengthAdjust="spacingAndGlyphs">0.00%</text>
<rect x="87.8" y="590.92" width="5" height="1.4" fill="#000"/>
<text x="83.20" y="594.62" font-size="10.3" text-anchor="end" fill="#0a0a0a" textLength="35.49" lengthAdjust="spacingAndGlyphs">-10.00%</text>
<rect x="87.8" y="627.54" width="5" height="1.4" fill="#000"/>
<text x="83.20" y="631.24" font-size="10.3" text-anchor="end" fill="#0a0a0a" textLength="35.49" lengthAdjust="spacingAndGlyphs">-20.00%</text>
<rect x="87.8" y="664.16" width="5" height="1.4" fill="#000"/>
<text x="83.20" y="667.86" font-size="10.3" text-anchor="end" fill="#0a0a0a" textLength="35.49" lengthAdjust="spacingAndGlyphs">-30.00%</text>
<rect x="87.8" y="700.78" width="5" height="1.4" fill="#000"/>
<text x="83.20" y="704.48" font-size="10.3" text-anchor="end" fill="#0a0a0a" textLength="35.49" lengthAdjust="spacingAndGlyphs">-40.00%</text>
<rect x="87.8" y="737.40" width="5" height="1.4" fill="#000"/>
<text x="83.20" y="741.10" font-size="10.3" text-anchor="end" fill="#0a0a0a" textLength="35.49" lengthAdjust="spacingAndGlyphs">-50.00%</text>
<rect x="87.8" y="774.02" width="5" height="1.4" fill="#000"/>
<text x="83.20" y="777.72" font-size="10.3" text-anchor="end" fill="#0a0a0a" textLength="35.49" lengthAdjust="spacingAndGlyphs">-60.00%</text>
<rect x="87.8" y="810.64" width="5" height="1.4" fill="#000"/>
<text x="83.20" y="814.34" font-size="10.3" text-anchor="end" fill="#0a0a0a" textLength="35.49" lengthAdjust="spacingAndGlyphs">-70.00%</text>
<rect x="87.8" y="847.26" width="5" height="1.4" fill="#000"/>
<text x="83.20" y="850.96" font-size="10.3" text-anchor="end" fill="#0a0a0a" textLength="35.49" lengthAdjust="spacingAndGlyphs">-80.00%</text>
<rect x="87.8" y="883.88" width="5" height="1.4" fill="#000"/>
<text x="83.20" y="887.58" font-size="10.3" text-anchor="end" fill="#0a0a0a" textLength="35.49" lengthAdjust="spacingAndGlyphs">-90.00%</text>
<rect x="87.8" y="920.50" width="5" height="1.4" fill="#000"/>
<text x="83.20" y="924.20" font-size="10.3" text-anchor="end" fill="#0a0a0a" textLength="40.79" lengthAdjust="spacingAndGlyphs">-100.00%</text>
<text transform="translate(38.90,827.82) rotate(-90)" font-size="12.4" fill="#1a1a1a" stroke="#1a1a1a" stroke-width="0.3" textLength="174.48" lengthAdjust="spacingAndGlyphs">Percent change in dFLC from baseline</text>
<text x="261.67" y="941.50" font-size="12.2" fill="#1a1a1a" stroke="#1a1a1a" stroke-width="0.25" textLength="78.69" lengthAdjust="spacingAndGlyphs">Enrolled subjects</text>
<rect x="0.75" y="0.75" width="518.5" height="954.5" fill="none" stroke="#000" stroke-width="1.5"/>
</svg>
</body></html>
